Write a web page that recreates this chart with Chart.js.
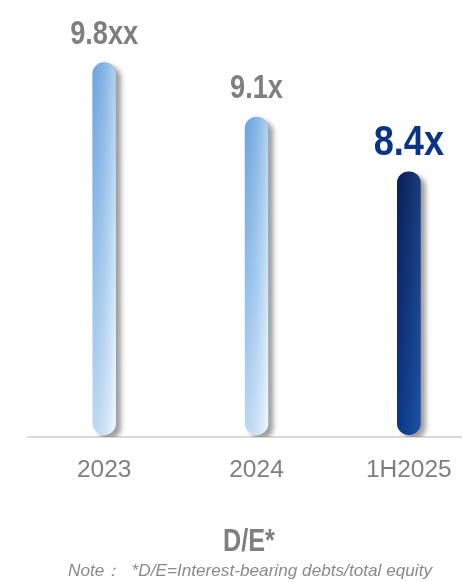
<!DOCTYPE html>
<html>
<head>
<meta charset="utf-8">
<title>D/E</title>
<style>
  html, body { margin: 0; padding: 0; background: #fff; overflow: hidden; }
  #deChart { display: block; }
</style>
</head>
<body>
<canvas id="deChart" width="490" height="582"></canvas>
<script src="https://cdn.jsdelivr.net/npm/chart.js@4/dist/chart.umd.min.js"></script>
<script>
const categories = ['2023', '2024', '1H2025'];
const deRatio = [9.8, 9.1, 8.4];
const valueLabels = ['9.8xx', '9.1x', '8.4x'];

const chartTitle = 'D/E*';
const chartNote = 'Note\uFF1A  *D/E=Interest-bearing debts/total equity';

const SANS = "'Liberation Sans', Arial, sans-serif";
const GRAY = '#7f7f7f';

// draws text squeezed horizontally (narrow look)
function narrowText(ctx, text, x, y, font, sx) {
  ctx.save();
  ctx.font = font;
  ctx.textAlign = 'center';
  ctx.textBaseline = 'alphabetic';
  ctx.translate(x, y);
  ctx.scale(sx, 1);
  ctx.fillText(text, 0, 0);
  ctx.restore();
}

// last bar (current period) is dark navy, previous ones light blue
function barFill(context) {
  const chart = context.chart;
  const area = chart.chartArea;
  if (!area) return '#9cc8ec';
  const yScale = chart.scales.y;
  const top = yScale.getPixelForValue(deRatio[context.dataIndex]);
  const g = chart.ctx.createLinearGradient(0, top, 0, area.bottom);
  if (context.dataIndex === deRatio.length - 1) {
    g.addColorStop(0, '#0b2562');
    g.addColorStop(1, '#0d4299');
  } else {
    g.addColorStop(0, '#80b4e4');
    g.addColorStop(0.55, '#b4d8f3');
    g.addColorStop(1, '#e8f5fe');
  }
  return g;
}

const barStyle = {
  id: 'barStyle',
  beforeDatasetsDraw(chart) {
    const ctx = chart.ctx;
    ctx.save();
    ctx.shadowColor = 'rgba(0, 0, 0, 0.38)';
    ctx.shadowOffsetX = 5;
    ctx.shadowOffsetY = 4;
    ctx.shadowBlur = 5;
  },
  afterDatasetsDraw(chart) {
    const ctx = chart.ctx;
    ctx.restore();
    const meta = chart.getDatasetMeta(0);
    meta.data.forEach((bar, i) => {
      const last = i === deRatio.length - 1;
      const w = bar.width;
      const left = bar.x - w / 2;
      // horizontal shading on top of the vertical gradient
      const g = ctx.createLinearGradient(left, 0, left + w, 0);
      if (last) {
        g.addColorStop(0, 'rgba(0, 10, 40, 0.18)');
        g.addColorStop(1, 'rgba(90, 140, 220, 0.22)');
      } else {
        g.addColorStop(0, 'rgba(40, 110, 200, 0.22)');
        g.addColorStop(1, 'rgba(255, 255, 255, 0.40)');
      }
      ctx.save();
      ctx.beginPath();
      ctx.roundRect(left, bar.y, w, bar.base - bar.y, w / 2);
      ctx.fillStyle = g;
      ctx.fill();
      ctx.restore();

      // value label above the bar
      if (last) {
        const tg = ctx.createLinearGradient(bar.x - 36, 0, bar.x + 36, 0);
        tg.addColorStop(0, '#0a3584');
        tg.addColorStop(1, '#2e6fc6');
        ctx.fillStyle = tg;
        narrowText(ctx, valueLabels[i], bar.x, bar.y - 17, 'bold 42px ' + SANS, 0.86);
      } else {
        ctx.fillStyle = GRAY;
        narrowText(ctx, valueLabels[i], bar.x, bar.y - 19, 'bold 34px ' + SANS, 0.8);
      }
    });
  },
  afterDraw(chart) {
    const ctx = chart.ctx;
    ctx.save();
    ctx.fillStyle = GRAY;
    narrowText(ctx, chartTitle, 249, 551, 'bold 31.5px ' + SANS, 0.8);
    ctx.fillStyle = '#8a8a8a';
    const noteFont = 'italic 16.5px ' + SANS;
    ctx.font = noteFont;
    const sx = 364 / ctx.measureText(chartNote).width;
    narrowText(ctx, chartNote, 250, 576, noteFont, sx);
    ctx.restore();
  }
};

new Chart(document.getElementById('deChart').getContext('2d'), {
  type: 'bar',
  data: {
    labels: categories,
    datasets: [{
      data: deRatio,
      backgroundColor: barFill,
      barThickness: 23,
      borderRadius: 11.5,
      borderSkipped: false,
      base: 5.03
    }]
  },
  options: {
    responsive: false,
    animation: false,
    events: [],
    layout: {
      padding: { top: 47, left: 28, right: 5, bottom: 85 }
    },
    plugins: {
      legend: { display: false },
      tooltip: { enabled: false }
    },
    scales: {
      x: {
        grid: { display: false, drawTicks: false },
        border: { display: true, color: '#d9d9d9', width: 2 },
        ticks: {
          color: GRAY,
          padding: 19,
          font: { family: 'Liberation Sans', size: 24.5 }
        },
        afterFit(scale) { scale.height = 60; }
      },
      y: {
        display: false,
        min: 5,
        max: 10
      }
    }
  },
  plugins: [barStyle]
});
</script>
</body>
</html>
